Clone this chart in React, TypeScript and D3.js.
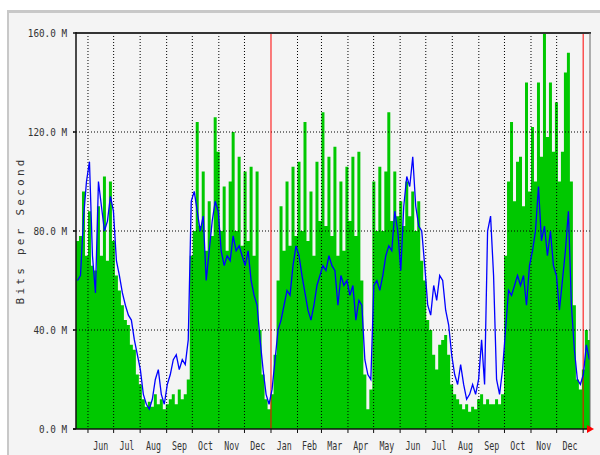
import React from "react";
import * as d3 from "d3";

// Input (green, area) and output (blue, line) in Mbit/s, sampled every 3.5 days from 2006-05-18
const inValues = [
  76, 78, 96, 70, 88, 66, 64, 90, 70, 102, 68, 100, 76, 62, 56, 50, 44, 42, 34, 32,
  22, 18, 12, 9, 11, 9, 14, 10, 12, 8, 10, 12, 14, 10, 16, 12, 14, 20, 70, 80,
  124, 82, 104, 72, 92, 78, 126, 112, 80, 98, 72, 100, 120, 80, 110, 74, 104, 76, 106, 70,
  104, 40, 22, 12, 8, 14, 30, 60, 90, 72, 100, 74, 106, 78, 108, 80, 124, 76, 96, 70,
  108, 84, 128, 82, 110, 78, 114, 70, 100, 72, 106, 84, 110, 78, 112, 60, 22, 8, 16, 100,
  80, 106, 80, 104, 128, 84, 104, 86, 92, 82, 100, 86, 96, 80, 92, 68, 60, 44, 40, 30,
  24, 34, 36, 38, 30, 18, 14, 12, 10, 8, 10, 7, 9, 8, 12, 14, 10, 12, 10, 10,
  12, 10, 14, 70, 100, 124, 92, 108, 110, 90, 140, 96, 122, 100, 140, 110, 160, 118, 140, 112,
  132, 100, 112, 144, 152, 100, 50, 20, 16, 24, 40, 36,
];
const outValues = [
  60, 62, 85, 100, 108, 70, 55, 100, 90, 80, 84, 94, 88, 68, 62, 55, 50, 46, 44, 36,
  30, 24, 14, 10, 8, 12, 20, 24, 14, 10, 18, 22, 28, 30, 24, 28, 26, 36, 92, 96,
  88, 80, 86, 60, 72, 84, 92, 88, 72, 66, 70, 68, 78, 72, 74, 70, 66, 72, 60, 54,
  50, 36, 24, 14, 10, 16, 28, 40, 44, 50, 56, 54, 66, 74, 70, 62, 55, 48, 44, 50,
  58, 62, 66, 64, 70, 66, 64, 50, 62, 58, 60, 54, 58, 44, 52, 50, 28, 22, 20, 58,
  60, 56, 62, 70, 74, 72, 88, 80, 64, 90, 102, 98, 110, 90, 82, 80, 66, 50, 46, 58,
  52, 62, 60, 48, 42, 30, 22, 18, 26, 18, 12, 14, 18, 14, 20, 36, 18, 80, 86, 62,
  20, 14, 24, 40, 56, 54, 58, 62, 58, 62, 50, 66, 72, 80, 98, 76, 82, 70, 80, 66,
  62, 48, 60, 72, 88, 50, 32, 20, 18, 22, 34, 28,
];
const monthLabels = [
  "Jun", "Jul", "Aug", "Sep", "Oct", "Nov", "Dec", "Jan", "Feb", "Mar", "Apr", "May",
  "Jun", "Jul", "Aug", "Sep", "Oct", "Nov", "Dec",
];
const yTicks = [0, 40, 80, 120, 160];
const yTickLabels = ["0.0 M", "40.0 M", "80.0 M", "120.0 M", "160.0 M"];
const yearMarks = [new Date(2007, 0, 1), new Date(2008, 0, 1)];
const startDate = new Date(2006, 4, 18);
const endDate = new Date(2008, 0, 9);
const stepDays = 3.5;

const L = 76, R = 590, T = 33, B = 429;
const GREEN = "#00c800";
const FONT = "'DejaVu Sans Mono', monospace";

export default function App() {
  const x = d3.scaleTime().domain([startDate, endDate]).range([L, R]);
  const y = d3.scaleLinear().domain([0, 160]).range([B, T]);
  const dates = inValues.map((_, i) => d3.timeHour.offset(startDate, Math.round(i * stepDays * 24)));
  const monthStarts = d3.timeMonth.range(new Date(2006, 5, 1), new Date(2008, 0, 2));
  const gridMonths = monthStarts.filter((d) => d.getMonth() !== 0);

  const inPts = inValues.map((v, i) => ({ d: dates[i], v }));
  inPts.push({ d: endDate, v: inValues[inValues.length - 1] });
  const area = d3
    .area<{ d: Date; v: number }>()
    .x((p) => x(p.d))
    .y0(B)
    .y1((p) => y(p.v))
    .curve(d3.curveStepAfter);
  const halfStep = (x(dates[1]) - x(dates[0])) / 2;
  const line = d3
    .line<number>()
    .x((_, i) => x(dates[i]) + halfStep)
    .y((d) => y(d))
    .curve(d3.curveLinear);

  return (
    <svg width={600} height={455} style={{ position: "absolute", left: 0, top: 0, background: "#fff" }}>
      <rect x={7} y={10} width={600} height={460} fill="#f4f4f4" />
      <rect x={7} y={10} width={600} height={3} fill="#c8c8c8" />
      <rect x={7} y={10} width={2} height={460} fill="#c8c8c8" />
      <defs>
        <clipPath id="plot">
          <rect x={L} y={T} width={R - L} height={B - T} />
        </clipPath>
      </defs>
      <path d={area(inPts) || ""} fill={GREEN} clipPath="url(#plot)" />
      {/* horizontal grid */}
      {yTicks.slice(1, 4).map((t) => (
        <line key={t} x1={L - 3} x2={R + 1} y1={y(t)} y2={y(t)} stroke="#000" strokeWidth={1} strokeDasharray="1,2" />
      ))}
      {/* vertical grid */}
      {gridMonths.map((d, i) => (
        <line key={i} x1={x(d)} x2={x(d)} y1={T} y2={B} stroke="#000" strokeWidth={1} strokeDasharray="1,2" />
      ))}
      {yearMarks.map((d, i) => (
        <line key={i} x1={x(d)} x2={x(d)} y1={T} y2={B} stroke="#ff0000" strokeWidth={1} />
      ))}
      <path d={line(outValues) || ""} fill="none" stroke="#0000ff" strokeWidth={1.3} clipPath="url(#plot)" />
      {/* frame */}
      <line x1={L} x2={R + 1} y1={T} y2={T} stroke="#333" strokeWidth={2} />
      <line x1={R} x2={R} y1={T} y2={B} stroke="#666" strokeWidth={1} />
      <line x1={L} x2={L} y1={T - 1} y2={B} stroke="#111" strokeWidth={1.5} />
      <line x1={L - 3} x2={R + 1} y1={B} y2={B} stroke="#111" strokeWidth={1.5} />
      {yTicks.map((t) => (
        <line key={t} x1={L - 3} x2={L} y1={y(t)} y2={y(t)} stroke="#111" strokeWidth={1.5} />
      ))}
      {monthStarts.map((d, i) => (
        <line key={i} x1={x(d)} x2={x(d)} y1={B} y2={B + 4} stroke="#111" strokeWidth={1} />
      ))}
      <path d={`M${R - 3},${B - 4} L${R + 4},${B} L${R - 3},${B + 4} Z`} fill="#ff0000" />
      {/* y labels */}
      {yTicks.map((t, i) => (
        <text
          key={t}
          x={67}
          y={y(t)}
          textAnchor="end"
          dominantBaseline="central"
          fontFamily={FONT}
          fontSize={11}
          fill="#333"
          textLength={yTickLabels[i].length * 5.6}
          lengthAdjust="spacingAndGlyphs"
        >
          {yTickLabels[i]}
        </text>
      ))}
      {/* x labels */}
      {monthStarts.slice(0, monthLabels.length).map((d, i) => {
        const cx = (x(d) + x(d3.timeMonth.offset(d, 1))) / 2;
        return (
          <text
            key={i}
            x={cx}
            y={446}
            textAnchor="middle"
            dominantBaseline="central"
            fontFamily={FONT}
            fontSize={12}
            fill="#333"
            textLength={15}
            lengthAdjust="spacingAndGlyphs"
          >
            {monthLabels[i]}
          </text>
        );
      })}
      <text
        transform="translate(20,232) rotate(-90)"
        textAnchor="middle"
        dominantBaseline="central"
        fontFamily={FONT}
        fontSize={11}
        fill="#333"
        textLength={145}
        lengthAdjust="spacing"
      >
        Bits per Second
      </text>
    </svg>
  );
}
